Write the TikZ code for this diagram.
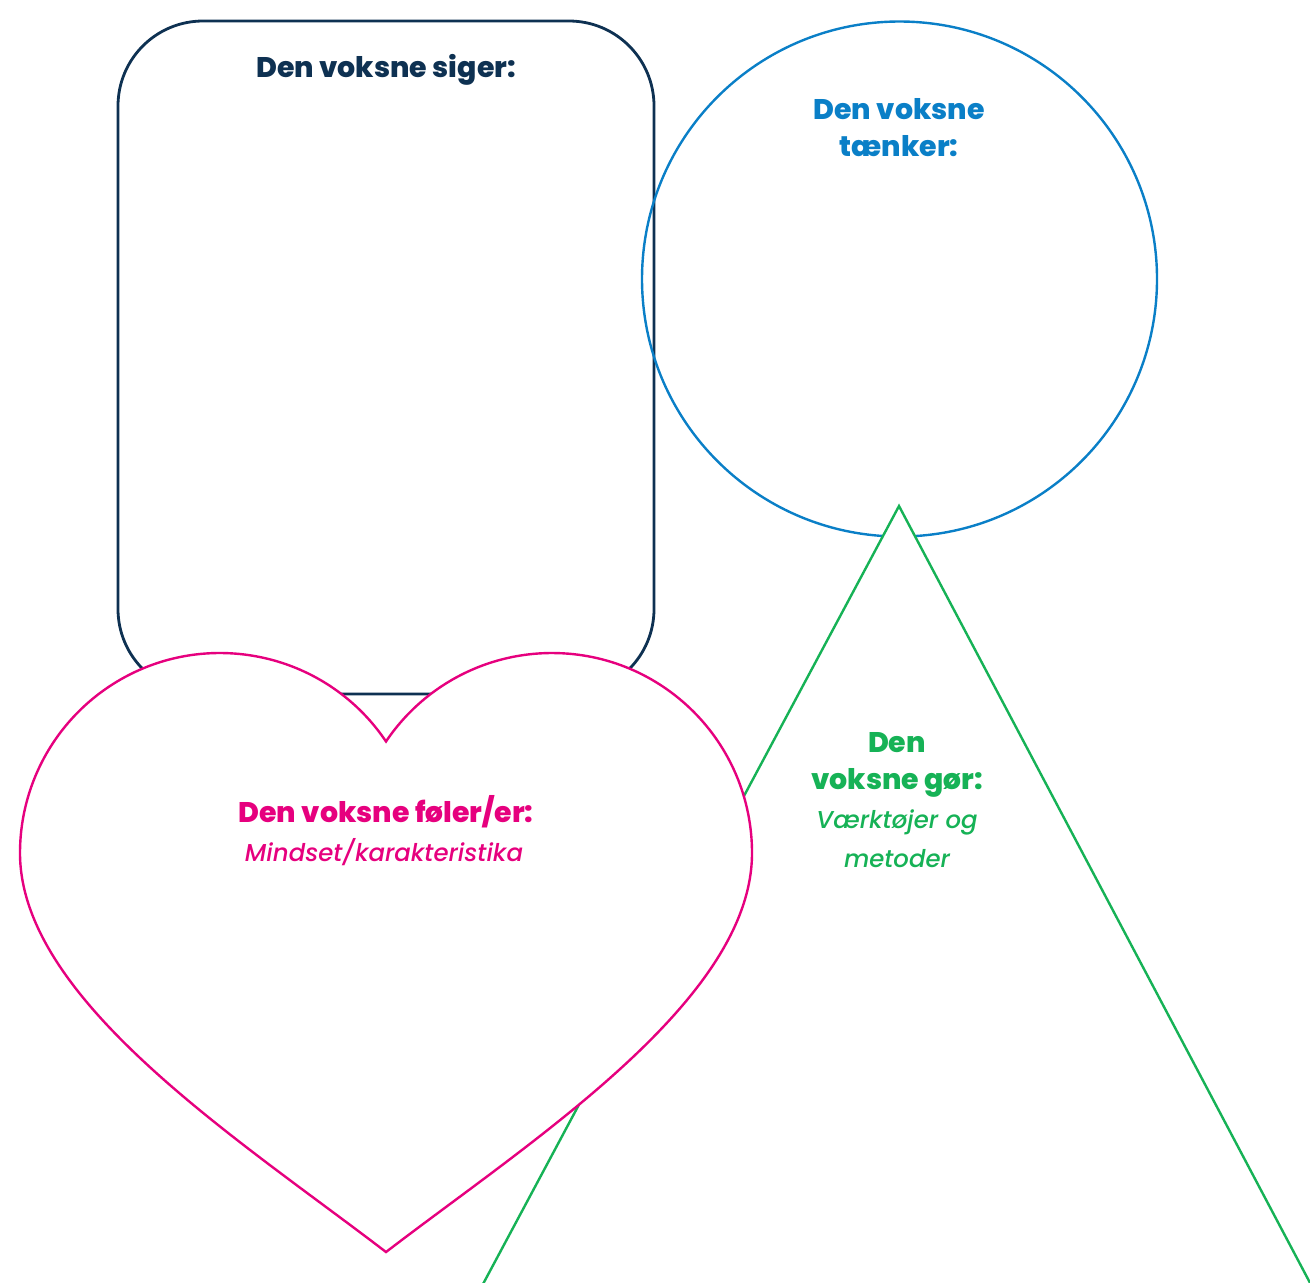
\documentclass[tikz,border=0pt]{standalone}
\usepackage{fontspec}
\setmainfont{Poppins}[BoldFont={Poppins ExtraBold}, ItalicFont={Poppins Medium Italic}]
\definecolor{navy}{HTML}{0E3152}
\definecolor{skyblue}{HTML}{0A7FC7}
\definecolor{leafgreen}{HTML}{16B256}
\definecolor{rose}{HTML}{E6007E}
\begin{document}
\begin{tikzpicture}[x=0.5pt,y=-0.5pt,
    heading/.style={font=\bfseries\fontsize{14.2}{18.5}\selectfont, inner sep=0pt, align=center, anchor=base},
    subline/.style={font=\itshape\fontsize{12.2}{19.5}\selectfont, inner sep=0pt, align=center, anchor=base}]
                \useasboundingbox (0,0) rectangle (1310,1282);
                \clip (0,0) rectangle (1310,1282);
                
                \draw[navy, line width=1.4pt, rounded corners=42.5pt] (118,21) rectangle (654,694);
                \draw[skyblue, line width=1.2pt] (899.5,279) circle[radius=257.5];
                \draw[leafgreen, line width=1.2pt, fill=white] (899,506) -- (1372,1400) -- (421,1400) -- cycle;
                
                \draw[rose, line width=1.2pt, fill=white] (20,853) .. controls (20,1000) and (240,1140) .. (386,1252)
                    .. controls (532,1140) and (752,1000) .. (752,853)
                    arc[start angle=0, end angle=-146.1, radius=200]
                    arc[start angle=-33.9, end angle=-180, radius=200] -- cycle;
                
                \node [heading, text=navy] (SI) at (386,77) {Den voksne siger:};
                \node [heading, text=skyblue] (TA) at (899,156) {Den voksne\\tænker:};
                
                \node [heading, text=leafgreen] (GO) at (897,789) {Den\\voksne gør:};
                \node [subline, text=leafgreen] (GV) at (897,867) {Værktøjer og\\metoder};
                
                \node [heading, text=rose] (FO) at (386,822) {Den voksne føler/er:};
                \node [subline, text=rose] (FM) at (384,861) {Mindset/karakteristika};
            \end{tikzpicture}
\end{document}
